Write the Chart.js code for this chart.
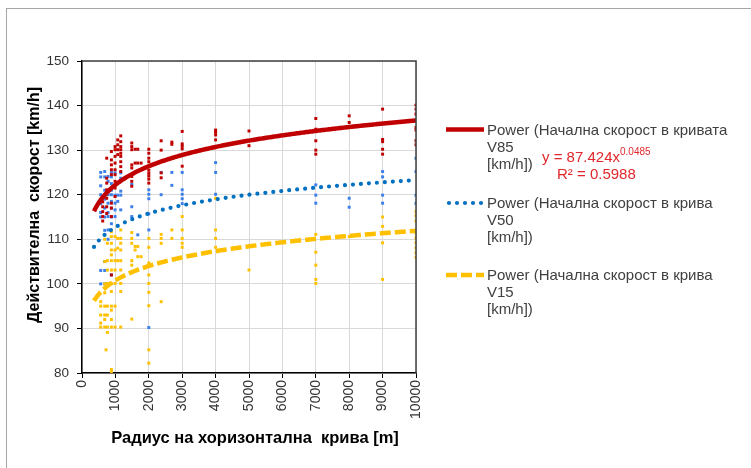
<!DOCTYPE html>
<html>
<head>
<meta charset="utf-8">
<script src="https://cdn.jsdelivr.net/npm/chart.js@4.4.1/dist/chart.umd.min.js"></script>
<style>
  html, body { margin: 0; padding: 0; background: #fff; }
  canvas { display: block; }
</style>
</head>
<body>
<canvas id="chart" width="751" height="468"></canvas>
<script>
// Observed speeds [radius m, speed km/h]
const v85Points = [
  [620,118.4],[620,117.3],[620,116.2],[620,115.1],[620,114.1],
  [740,128.2],[740,123.7],[740,122.6],[740,121.1],[740,119.2],[740,117.3],[740,115.8],
  [880,129.7],[880,127.8],[880,126.7],[880,125.6],[880,124.5],[880,118.1],[880,117.0],[880,115.1],[880,102.0],
  [990,130.8],[990,130.1],[990,128.6],[990,127.1],[990,125.6],[990,124.5],[990,123.0],[990,121.5],[990,119.6],
  [1070,132.3],[1070,131.2],[1070,130.1],[1070,129.0],
  [1160,133.2],[1160,131.9],[1160,130.8],[1160,130.1],[1160,129.3],[1160,128.6],[1160,127.4],[1160,126.3],[1160,125.2],
  [1490,131.6],[1490,130.8],[1490,130.1],[1490,126.7],[1490,126.0],[1490,124.1],[1490,123.0],[1490,121.9],
  [1590,130.2],[1590,127.1],[1670,130.2],[1670,127.1],[1770,127.1],
  [2000,130.2],[2000,129.3],[2000,128.2],[2000,127.4],[2000,126.4],[2000,125.5],[2000,124.8],[2000,124.2],[2000,123.5],[2000,122.6],
  [2370,132.1],[2370,130.0],[2370,124.9],[2370,123.8],
  [2690,131.8],[2690,131.3],
  [3000,134.2],[3000,131.4],[3000,130.9],[3000,130.3],[3000,126.4],
  [4000,134.5],[4000,134.0],[4000,133.4],[4000,132.3],
  [5000,134.3],[5000,131.0],
  [7000,137.1],[7000,134.7],[7000,132.1],[7000,130.0],[7000,129.1],
  [8000,137.7],[8000,136.2],
  [9000,139.2],[9000,132.4],[9000,131.9],[9000,130.2],[9000,129.1],
  [10000,140.1],[10000,139.2],[10000,138.1],[10000,135.1],[10000,134.5],[10000,132.1],[10000,131.2]
];
const v50Points = [
  [560,125.0],[560,124.0],[560,122.0],[560,120.0],[560,118.0],[560,116.0],[560,115.0],[560,103.0],[560,100.0],
  [680,125.2],[680,124.0],[680,121.0],[680,120.0],[680,119.0],[680,117.0],[680,115.0],[680,112.0],[680,105.0],[680,103.0],[680,100.0],
  [780,124.1],[780,123.0],[780,120.0],[780,118.1],[780,116.0],[780,115.1],[780,112.1],[780,110.0],
  [880,125.0],[880,124.0],[880,122.5],[880,121.0],[880,120.0],[880,118.5],[880,117.0],[880,115.0],[880,113.5],[880,102.0],
  [990,124.9],[990,119.9],[990,118.1],[990,116.6],[990,115.1],
  [1070,119.9],[1070,118.5],
  [1160,124.9],[1160,123.7],[1160,120.8],[1160,119.9],[1160,116.6],
  [1490,122.3],[1490,117.3],[1490,115.1],
  [1670,111.0],
  [2000,121.1],[2000,120.1],[2000,119.1],[2000,115.7],[2000,112.1],[2000,90.2],
  [2370,125.0],[2370,120.0],
  [2690,125.0],[2690,122.1],
  [3000,125.0],[3000,121.1],[3000,120.1],[3000,119.1],[3000,118.0],
  [4000,127.2],[4000,125.0],[4000,120.1],
  [7000,122.2],[7000,119.9],[7000,118.1],
  [8000,119.2],[8000,117.2],
  [9000,125.2],[9000,124.0],[9000,119.9],[9000,118.1],
  [10000,128.2],[10000,125.2],[10000,119.9],[10000,118.1]
];
const v15Points = [
  [560,96.0],[560,95.0],[560,93.0],[560,91.2],[560,90.3],
  [680,110.0],[680,105.0],[680,100.0],[680,98.0],[680,95.0],[680,93.0],[680,92.0],[680,90.3],
  [760,109.1],[760,105.2],[760,103.1],[760,100.1],[760,95.0],[760,93.0],[760,90.3],[760,89.1],[720,85.2],
  [880,111.7],[880,110.6],[880,109.1],[880,107.6],[880,106.5],[880,105.2],[880,103.1],[880,100.1],[880,98.3],[880,95.0],[880,94.1],[880,92.0],[880,90.3],[880,80.8],[880,80.2],
  [990,110.6],[990,107.6],[990,105.2],[990,103.1],[990,100.1],[990,95.0],[990,90.3],
  [1070,110.2],[1070,108.0],[1070,105.2],
  [1160,112.1],[1160,110.2],[1160,109.1],[1160,107.6],[1160,105.2],[1160,103.1],[1160,100.1],[1160,98.3],[1160,90.3],
  [1490,111.5],[1490,110.2],[1490,109.1],[1490,105.2],[1490,104.2],[1490,92.1],
  [1590,108.4],[1590,107.6],[1670,108.4],[1670,106.1],[1770,106.1],
  [2000,110.2],[2000,108.2],[2000,104.7],[2000,102.0],[2000,100.1],[2000,98.1],[2000,95.1],[2000,85.2],[2000,82.2],
  [2370,111.1],[2370,110.2],[2370,109.1],[2370,96.0],
  [2690,112.1],[2690,110.2],
  [3000,115.1],[3000,112.1],[3000,110.2],[3000,109.1],[3000,108.2],
  [4000,119.2],[4000,112.1],[4000,110.2],[4000,108.2],
  [5000,103.1],
  [7000,111.1],[7000,107.1],[7000,104.2],[7000,101.0],[7000,100.1],
  [8000,110.6],
  [9000,115.0],[9000,112.9],[9000,109.2],[9000,101.0],
  [10000,116.2],[10000,115.3],[10000,114.1],[10000,111.4],[10000,110.3],[10000,109.2],[10000,108.1],[10000,107.0],[10000,105.9]
];

// Power trendlines y = a * x^b  ->  [a, b]
const fitV85 = [87.424, 0.0485];
const fitV50 = [86.08, 0.0390];
const fitV15 = [73.59, 0.0455];
const trendRange = [360, 10000];

// Axis ticks
const xTicks = [0, 1000, 2000, 3000, 4000, 5000, 6000, 7000, 8000, 9000, 10000];
const yTicks = [80, 90, 100, 110, 120, 130, 140, 150];

// Text
const xTitle = 'Радиус на хоризонтална  крива [m]';
const yTitle = 'Действителна  скорост [km/h]';
const legendTexts = [
  ['Power (Начална скорост в кривата', 'V85', '[km/h])'],
  ['Power (Начална скорост в крива', 'V50', '[km/h])'],
  ['Power (Начална скорост в крива', 'V15', '[km/h])']
];
const equationText = ['y = 87.424x', '0.0485', 'R² = 0.5988'];

const RED = '#C00000', BLUE_PT = '#3D80EA', BLUE_LINE = '#0070C0', GOLD = '#FFC000';
const FONT = '"Liberation Sans", Arial, sans-serif';

const toXY = pts => pts.map(p => ({ x: p[0], y: p[1] }));
function trend(fit) {
  const out = [];
  for (let x = trendRange[0]; x <= trendRange[1]; x += 40) {
    out.push({ x: x, y: fit[0] * Math.pow(x, fit[1]) });
  }
  return out;
}

const lineStyles = [
  { color: RED, width: 4.5, dash: [], cap: 'butt' },
  { color: BLUE_LINE, width: 4.2, dash: [0, 8], cap: 'round' },
  { color: GOLD, width: 4.5, dash: [11, 4], cap: 'butt' }
];

function pointSet(pts, color, order) {
  return {
    type: 'scatter', data: toXY(pts), backgroundColor: color, borderColor: color,
    pointStyle: 'rect', pointRadius: 2.1, pointBorderWidth: 0, pointHoverRadius: 2.1,
    showLine: false, order: order
  };
}
function trendSet(fit, st) {
  return {
    type: 'scatter', data: trend(fit), showLine: true, borderColor: st.color,
    borderWidth: st.width, borderDash: st.dash, borderCapStyle: st.cap, borderJoinStyle: 'round',
    pointRadius: 0, pointHoverRadius: 0, tension: 0, fill: false, order: 0
  };
}

const framePlugin = {
  id: 'frame',
  beforeDraw(chart) {
    const ctx = chart.ctx;
    ctx.save();
    ctx.fillStyle = '#fff';
    ctx.fillRect(0, 0, chart.width, chart.height);
    ctx.strokeStyle = '#A6A6A6';
    ctx.lineWidth = 1;
    ctx.strokeRect(6.5, 8.5, 800, 600);
    ctx.restore();
  },
  afterDraw(chart) {
    const ctx = chart.ctx;
    const a = chart.chartArea;
    ctx.save();
    // top and right edges of the plot box
    ctx.strokeStyle = '#404040';
    ctx.lineWidth = 1.5;
    ctx.beginPath();
    ctx.moveTo(a.left, a.top);
    ctx.lineTo(a.right, a.top);
    ctx.lineTo(a.right, a.bottom);
    ctx.stroke();

    // axis titles
    ctx.fillStyle = '#000';
    ctx.textAlign = 'center';
    ctx.textBaseline = 'middle';
    ctx.font = 'bold 16.5px ' + FONT;
    ctx.fillText(xTitle, 255, 438);
    ctx.save();
    ctx.translate(35, 205);
    ctx.rotate(-Math.PI / 2);
    ctx.font = 'bold 16px ' + FONT;
    ctx.fillText(yTitle, 0, 0);
    ctx.restore();

    // legend
    const rows = [130.5, 204, 276];
    ctx.textAlign = 'left';
    legendTexts.forEach((lines, i) => {
      const st = lineStyles[i];
      ctx.save();
      ctx.strokeStyle = st.color;
      ctx.lineWidth = st.width;
      ctx.lineCap = st.cap;
      ctx.setLineDash(st.dash);
      ctx.beginPath();
      ctx.moveTo(i === 1 ? 449 : 446, rows[i] - 1);
      ctx.lineTo(484, rows[i] - 1);
      ctx.stroke();
      ctx.restore();
      ctx.fillStyle = '#404040';
      ctx.font = '15px ' + FONT;
      lines.forEach((t, k) => ctx.fillText(t, 487, rows[i] + k * 17));
    });

    // trendline equation
    ctx.fillStyle = '#E0282C';
    ctx.font = '15px ' + FONT;
    ctx.fillText(equationText[0], 542, 158);
    const w = ctx.measureText(equationText[0]).width;
    ctx.font = '10px ' + FONT;
    ctx.fillText(equationText[1], 542 + w, 152.5);
    ctx.font = '15px ' + FONT;
    ctx.fillText(equationText[2], 557, 175);
    ctx.restore();
  }
};

new Chart(document.getElementById('chart'), {
  type: 'scatter',
  data: {
    datasets: [
      pointSet(v50Points, BLUE_PT, 3),
      pointSet(v15Points, GOLD, 2),
      pointSet(v85Points, RED, 1),
      trendSet(fitV85, lineStyles[0]),
      trendSet(fitV50, lineStyles[1]),
      trendSet(fitV15, lineStyles[2])
    ]
  },
  options: {
    responsive: false,
    animation: false,
    devicePixelRatio: 1,
    layout: { padding: { left: 32, top: 61, right: 335, bottom: 45 } },
    plugins: { legend: { display: false }, tooltip: { enabled: false } },
    scales: {
      x: {
        type: 'linear', min: xTicks[0], max: xTicks[xTicks.length - 1],
        afterBuildTicks: s => { s.ticks = xTicks.map(v => ({ value: v })); },
        afterFit: s => { s.height = 50; },
        ticks: {
          minRotation: 90, maxRotation: 90, padding: 2, color: '#333',
          font: { family: FONT, size: 14 },
          callback: v => String(v)
        },
        grid: { color: '#D9D9D9', lineWidth: 1, tickLength: 5, tickColor: '#000', drawTicks: true },
        border: { color: '#000', width: 1.5 }
      },
      y: {
        type: 'linear', min: yTicks[0], max: yTicks[yTicks.length - 1],
        afterBuildTicks: s => { s.ticks = yTicks.map(v => ({ value: v })); },
        afterFit: s => { s.width = 50; },
        ticks: {
          padding: 8, color: '#333',
          font: { family: FONT, size: 13.5 },
          callback: v => String(v)
        },
        grid: { color: '#D9D9D9', lineWidth: 1, tickLength: 5, tickColor: '#000', drawTicks: true },
        border: { color: '#000', width: 1.5 }
      }
    }
  },
  plugins: [framePlugin]
});
</script>
</body>
</html>
